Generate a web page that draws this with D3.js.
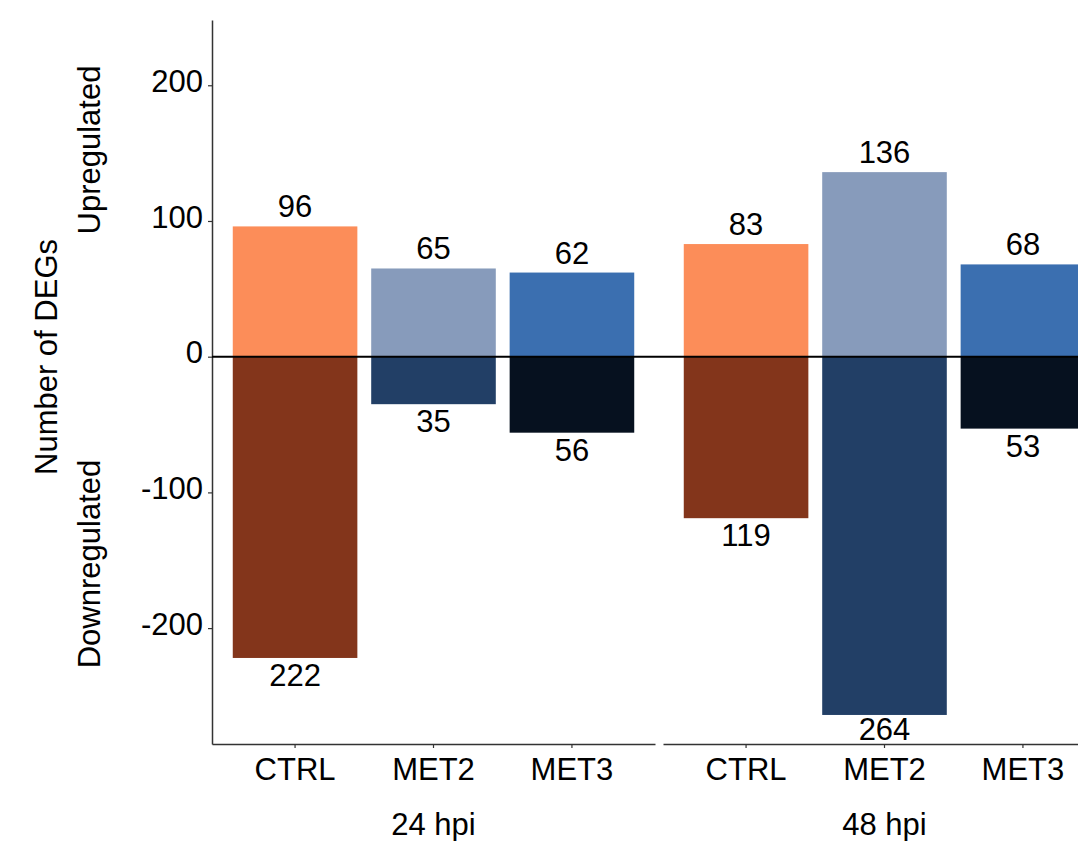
<!DOCTYPE html>
<html>
<head>
<meta charset="utf-8">
<script src="https://cdn.jsdelivr.net/npm/d3@7"></script>
<style>
  body { margin: 0; background: #fff; }
  text { font-family: "Liberation Sans", Arial, Helvetica, sans-serif; }
</style>
</head>
<body>
<div class="degChart"></div>
<script>
// Data
const groups = ["24 hpi", "48 hpi"];
const treatments = ["CTRL", "MET2", "MET3"];
const up24 = [96, 65, 62];
const down24 = [222, 35, 56];
const up48 = [83, 136, 68];
const down48 = [119, 264, 53];
const yTicks = [200, 100, 0, -100, -200];

const upColors = ["#fc8d59", "#879bbb", "#3b6fb0"];
const downColors = ["#83351b", "#223f66", "#06111f"];

const width = 1078
const height = 841
const fontSize = 31

const svg = d3.select(".degChart")
  .append("svg")
  .attr("width", width)
  .attr("height", height)

// y scale shared by both panels
const y = d3.scaleLinear()
  .domain([-285.4, 248.1])
  .range([744, 20]);

// one panel per time point
const panels = [
  { label: groups[0], x0: 212, x1: 655, up: up24, down: down24 },
  { label: groups[1], x0: 663, x1: 1106, up: up48, down: down48 }
];

panels.forEach(function (p) {
  const x = d3.scaleBand()
    .domain(treatments)
    .range([p.x0, p.x1])
    .paddingInner(0.1)
    .paddingOuter(0.15);

  const g = svg.append("g");

  // upregulated bars
  g.selectAll(".up")
    .data(treatments)
    .join("rect")
    .attr("x", d => x(d))
    .attr("width", x.bandwidth())
    .attr("y", (d, i) => y(p.up[i]))
    .attr("height", (d, i) => y(0) - y(p.up[i]))
    .attr("fill", (d, i) => upColors[i]);

  // downregulated bars
  g.selectAll(".down")
    .data(treatments)
    .join("rect")
    .attr("x", d => x(d))
    .attr("width", x.bandwidth())
    .attr("y", y(0))
    .attr("height", (d, i) => y(-p.down[i]) - y(0))
    .attr("fill", (d, i) => downColors[i]);

  // value labels
  g.selectAll(".upLabel")
    .data(treatments)
    .join("text")
    .attr("x", d => x(d) + x.bandwidth() / 2)
    .attr("y", (d, i) => y(p.up[i]) - 9)
    .attr("text-anchor", "middle")
    .style("font-size", fontSize + "px")
    .text((d, i) => p.up[i]);

  g.selectAll(".downLabel")
    .data(treatments)
    .join("text")
    .attr("x", d => x(d) + x.bandwidth() / 2)
    .attr("y", (d, i) => Math.min(y(-p.down[i]) + 28, 740))
    .attr("text-anchor", "middle")
    .style("font-size", fontSize + "px")
    .text((d, i) => p.down[i]);

  // x axis
  const xAxis = g.append("g")
    .attr("transform", "translate(0,744)")
    .call(d3.axisBottom(x).tickSize(4).tickSizeOuter(0).tickPadding(8));
  xAxis.select(".domain").attr("stroke", "#333").attr("stroke-width", 1.5);
  xAxis.selectAll(".tick line").attr("stroke", "#333").attr("stroke-width", 1.2);
  xAxis.selectAll(".tick text")
    .attr("y", 36)
    .attr("dy", null)
    .attr("fill", "#000")
    .style("font-size", fontSize + "px")
    .style("font-family", '"Liberation Sans", Arial, sans-serif');

  // facet label
  g.append("text")
    .attr("x", (p.x0 + p.x1) / 2)
    .attr("y", 835)
    .attr("text-anchor", "middle")
    .style("font-size", fontSize + "px")
    .text(p.label);
});

// y axis on the left panel only
const yAxis = svg.append("g")
  .attr("transform", "translate(212,0)")
  .call(d3.axisLeft(y).tickValues(yTicks).tickFormat(d => String(d))
    .tickSize(4).tickSizeOuter(0).tickPadding(5));
yAxis.select(".domain").attr("stroke", "#333").attr("stroke-width", 1.5);
yAxis.selectAll(".tick line").attr("stroke", "#333").attr("stroke-width", 1.2);
yAxis.selectAll(".tick text")
  .attr("dy", "0.2em")
  .attr("fill", "#000")
  .style("font-size", fontSize + "px")
  .style("font-family", '"Liberation Sans", Arial, sans-serif');

// zero line across both panels
svg.append("line")
  .attr("x1", 212)
  .attr("x2", width)
  .attr("y1", y(0))
  .attr("y2", y(0))
  .attr("stroke", "#000")
  .attr("stroke-width", 2);

// axis titles
const titles = [
  { text: "Number of DEGs", x: 57, y: 357 },
  { text: "Upregulated", x: 100, y: 150 },
  { text: "Downregulated", x: 100, y: 564 }
];
svg.selectAll(".yTitle")
  .data(titles)
  .join("text")
  .attr("transform", d => `translate(${d.x},${d.y}) rotate(-90)`)
  .attr("text-anchor", "middle")
  .style("font-size", fontSize + "px")
  .text(d => d.text);
</script>
</body>
</html>
